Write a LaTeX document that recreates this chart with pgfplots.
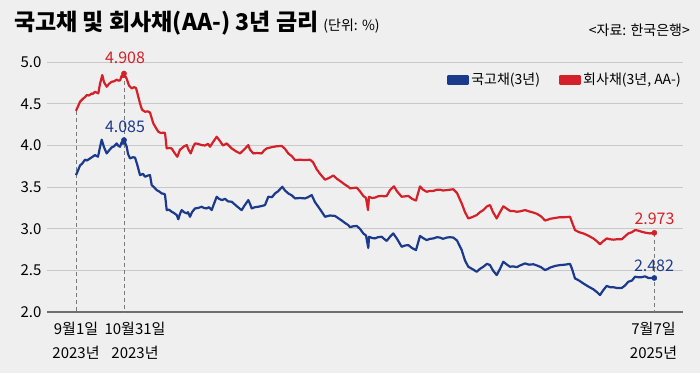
\documentclass[border=0pt]{standalone}
\usepackage{fontspec}
\setmainfont{Noto Sans CJK KR}
\usepackage{pgfplots}
\pgfplotsset{compat=1.18}
\definecolor{bg}{HTML}{EFEFEF}
\definecolor{navy}{HTML}{1B3A8C}
\definecolor{crim}{HTML}{D42029}
\definecolor{gridc}{HTML}{C8C8C8}
\definecolor{axisc}{HTML}{6E6E6E}
\definecolor{dashc}{HTML}{7A7A7A}
\pgfplotstableread{
x y
0 3.645
2 3.70
4 3.76
6 3.78
9 3.83
11 3.82
14 3.845
16 3.86
19 3.885
22 3.865
24 3.98
25.7 4.07
28 3.98
30.7 3.905
33 3.94
35.7 3.977
38 3.99
40.7 4.025
42 4.00
44 3.985
45.7 4.04
47 4.02
48 4.065
50.7 3.985
52 3.90
54 3.845
57 3.86
59 3.855
61 3.78
64 3.645
67 3.66
69 3.625
72 3.64
74 3.645
75.7 3.525
78 3.50
80.7 3.465
83 3.45
85.7 3.425
88 3.42
89 3.41
90.7 3.225
93 3.23
95.7 3.205
98 3.19
100.7 3.165
102.3 3.115
104 3.18
105.7 3.225
108 3.20
110.7 3.185
112 3.20
114 3.145
116 3.20
119 3.245
122 3.25
125.7 3.265
128 3.25
130.7 3.245
133 3.26
135.7 3.225
138 3.30
140.7 3.385
143 3.36
146 3.345
149 3.36
152 3.33
155.7 3.325
160 3.28
164 3.24
165.7 3.225
168 3.27
172.3 3.345
174 3.30
175.7 3.245
179 3.26
182.3 3.265
186 3.275
189 3.285
192.3 3.385
196 3.38
199 3.425
202 3.45
206.3 3.505
209 3.46
212.3 3.425
216 3.40
219 3.365
224 3.37
229 3.365
232 3.38
235.7 3.405
239 3.32
242.3 3.265
246 3.20
249 3.145
254 3.16
259 3.155
262 3.13
265.7 3.10
269 3.07
272.3 3.045
274 3.02
277 3.03
280.7 3.035
284 3.00
287.3 2.945
290 2.92
292.3 2.77
293 2.905
296 2.89
299 2.885
302 2.90
305.7 2.905
308 2.88
310.7 2.855
314 2.905
317.3 2.945
321 2.88
325.7 2.785
329 2.80
332.3 2.805
336 2.77
340 2.745
344 2.915
347 2.89
350.7 2.865
354 2.88
357.3 2.885
361 2.90
364 2.895
367 2.88
370.7 2.895
374 2.90
377.3 2.895
381 2.86
385.7 2.745
389 2.62
392.3 2.545
396 2.52
400.7 2.485
404 2.52
407.3 2.545
411 2.58
414 2.565
417 2.50
420.7 2.445
424 2.52
427.3 2.605
431 2.57
434 2.545
437 2.55
440.7 2.54
444 2.56
449 2.585
453 2.57
457.3 2.575
461 2.56
465 2.54
469 2.505
472 2.52
474 2.535
479 2.555
484 2.565
489 2.57
494 2.58
496 2.52
499 2.405
503 2.38
507.3 2.345
512 2.31
517.3 2.275
521 2.24
524 2.205
527 2.26
530.7 2.315
534 2.30
537.3 2.30
541 2.29
545.7 2.29
549 2.32
552.3 2.365
556 2.38
559 2.425
562 2.42
565.7 2.42
569 2.43
572.3 2.41
575 2.41
578.3 2.41
}\govt
\pgfplotstableread{
x y
0 4.416
2 4.47
4 4.525
7.3 4.565
9 4.58
10.7 4.605
13 4.60
15.7 4.625
17 4.62
19 4.645
22.3 4.625
24 4.74
26.3 4.845
28 4.76
30.7 4.705
33 4.74
35.7 4.765
38 4.77
40.7 4.79
42 4.78
44 4.78
45.7 4.84
47 4.82
48 4.864
50.7 4.80
53 4.72
55.7 4.685
58 4.70
60 4.69
62 4.60
64 4.505
66 4.43
69 4.405
72 4.41
74 4.395
77.3 4.265
80 4.21
82.3 4.165
85 4.15
87.3 4.155
89 4.15
90.7 3.965
93 3.97
95.7 3.965
98 3.92
101.3 3.865
104 3.95
105.7 3.965
108 3.99
110.7 4.005
112.5 3.95
114.7 3.905
117 3.98
119 4.025
122 4.02
125.7 4.005
129 4.00
132 4.02
134 3.985
137 4.04
140.7 4.105
143 4.07
147 4.00
150.7 4.025
155.7 3.965
160 3.93
164 3.905
168 3.95
172.3 4.005
174 3.95
177.3 3.905
181 3.91
185.7 3.905
188 3.94
190.7 3.965
195.7 3.98
200 3.99
205.7 3.995
209 3.96
212.3 3.905
216 3.87
219 3.825
224 3.83
229 3.825
234 3.83
237 3.80
240.7 3.715
244 3.66
249 3.59
253 3.61
257.3 3.64
261 3.60
265.7 3.56
269 3.53
272.3 3.505
274 3.485
277 3.49
280.7 3.495
284 3.45
287.3 3.395
290 3.37
292 3.225
293 3.385
296 3.37
299 3.375
302 3.39
305.7 3.395
308 3.39
310.7 3.395
314 3.465
318 3.51
321 3.45
325.7 3.385
329 3.39
332.3 3.395
336 3.36
340 3.34
344 3.51
347 3.47
350.7 3.445
354 3.455
357.3 3.455
361 3.47
364 3.47
367 3.46
370.7 3.465
374 3.47
377.3 3.475
381 3.43
385.7 3.305
389 3.20
392.3 3.125
396 3.14
400.7 3.165
404 3.20
407.3 3.225
411 3.27
414 3.285
417 3.20
420.7 3.125
424 3.20
427.3 3.27
431 3.24
434 3.215
437 3.215
440.7 3.205
444 3.21
449 3.225
453 3.21
457.3 3.195
461 3.18
465 3.15
469 3.10
472 3.11
474 3.12
479 3.13
484 3.14
489 3.14
494 3.145
496 3.08
499 2.985
503 2.96
507.3 2.945
512 2.92
517.3 2.885
521 2.85
524 2.815
527 2.85
530.7 2.885
534 2.875
537.3 2.87
541 2.875
545.7 2.875
549 2.91
552.3 2.945
556 2.96
559 2.985
562 2.98
565.7 2.965
569 2.955
574 2.945
578.3 2.952
}\corp
\begin{document}
\begin{tikzpicture}[x=1pt,y=1pt]
\fill[bg] (0,0) rectangle (700,373);
\path[use as bounding box] (0,0) rectangle (700,373);
\node[anchor=west, inner sep=0, font=\fontsize{23}{23}\selectfont\bfseries] at (14,350)
  {국고채 및 회사채(AA-) 3년 금리\hspace{5pt}{\fontsize{14}{14}\selectfont\mdseries (단위: \%)}};
\node[anchor=east, inner sep=0, font=\fontsize{14}{14}\selectfont] at (690,343) {<자료: 한국은행>};
\begin{axis}[
  at={(47,73)}, anchor=south west,
  scale only axis, width=636pt, height=250pt,
  xmin=-29, xmax=607, ymin=2, ymax=5,
  clip=false,
  axis line style={draw=none},
  xtick=\empty,
  ytick={2,2.5,3,3.5,4,4.5,5},
  ymajorgrids,
  major grid style={gridc, line width=1.2pt},
  major tick length=0pt,
  yticklabel style={font=\fontsize{15}{15}\selectfont, xshift=-2pt,
    /pgf/number format/fixed, /pgf/number format/precision=1,
    /pgf/number format/fixed zerofill},
  /pgf/number format/assume math mode=true,
  legend columns=2,
  legend style={at={(1,1)}, anchor=north east, yshift=-9pt, draw=none, fill=none,
    font=\fontsize{14}{14}\selectfont, inner sep=0pt,
    /tikz/every even column/.append style={column sep=17pt}},
  legend image code/.code={\fill[#1] (-6pt,-3.5pt) rectangle (14pt,3.5pt);},
]
\draw[axisc, line width=2pt] (axis cs:-29,2) -- (axis cs:607,2);
\draw[dashc, line width=0.8pt, dash pattern=on 4pt off 3pt] (axis cs:0,4.416) -- (axis cs:0,2);
\draw[dashc, line width=0.8pt, dash pattern=on 4pt off 3pt] (axis cs:48,4.864) -- (axis cs:48,2);
\draw[dashc, line width=0.8pt, dash pattern=on 4pt off 3pt] (axis cs:578.3,2.952) -- (axis cs:578.3,2);
\addplot[color=navy, line width=2.2pt, line join=round] table[x=x,y=y] {\govt};
\addlegendentry{국고채(3년)}
\addplot[color=crim, line width=2.2pt, line join=round] table[x=x,y=y] {\corp};
\addlegendentry{회사채(3년, AA-)}
\addplot[only marks, mark=*, mark size=2.6pt, color=navy, forget plot] coordinates {(48,4.065) (578.3,2.41)};
\addplot[only marks, mark=*, mark size=2.6pt, color=crim, forget plot] coordinates {(48,4.864) (578.3,2.952)};
\node[crim, font=\fontsize{16}{16}\selectfont] at (axis cs:49,5.048) {4.908};
\node[navy, font=\fontsize{16}{16}\selectfont] at (axis cs:49,4.22) {4.085};
\node[crim, font=\fontsize{16}{16}\selectfont] at (axis cs:578.5,3.117) {2.973};
\node[navy, font=\fontsize{16}{16}\selectfont] at (axis cs:578,2.56) {2.482};
\node[font=\fontsize{15}{15}\selectfont, yshift=-17pt] at (axis cs:0,2) {9월1일};
\node[font=\fontsize{15}{15}\selectfont, yshift=-41pt] at (axis cs:0,2) {2023년};
\node[font=\fontsize{15}{15}\selectfont, yshift=-17pt] at (axis cs:59,2) {10월31일};
\node[font=\fontsize{15}{15}\selectfont, yshift=-41pt] at (axis cs:59,2) {2023년};
\node[font=\fontsize{15}{15}\selectfont, yshift=-17pt] at (axis cs:577.5,2) {7월7일};
\node[font=\fontsize{15}{15}\selectfont, yshift=-41pt] at (axis cs:577.5,2) {2025년};
\end{axis}
\end{tikzpicture}
\end{document}
